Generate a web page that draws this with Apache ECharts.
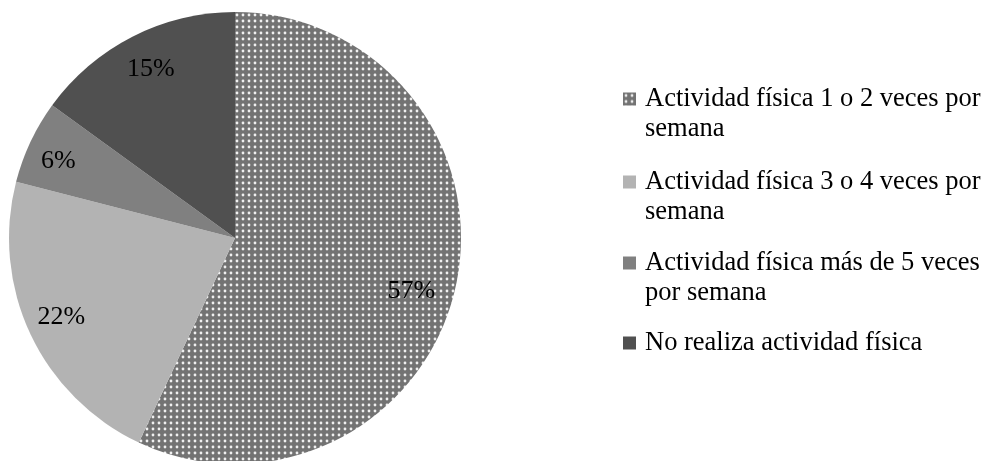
<!DOCTYPE html>
<html><head><meta charset="utf-8">
<script src="https://cdn.jsdelivr.net/npm/echarts@6/dist/echarts.min.js"></script>
<style>html,body{margin:0;padding:0;background:#fff}#c{width:986px;height:461px}</style>
</head><body><div id="c"></div>
<script>
const categories = ['Actividad física 1 o 2 veces por semana','Actividad física 3 o 4 veces por semana','Actividad física más de 5 veces por semana','No realiza actividad física'];
const legendText = ['Actividad física 1 o 2 veces por\nsemana','Actividad física 3 o 4 veces por\nsemana','Actividad física más de 5 veces\npor semana','No realiza actividad física'];
const values = [57, 22, 6, 15];
const sliceColors = ['pattern', '#b3b3b3', '#808080', '#505050'];

function makePattern() {
  const c = document.createElement('canvas'); c.width = 6; c.height = 6;
  const g = c.getContext('2d');
  g.fillStyle = '#737373'; g.fillRect(0, 0, 6, 6);
  g.fillStyle = '#f0f0f0'; g.beginPath(); g.arc(3, 3, 1.4, 0, Math.PI * 2); g.fill();
  return c;
}
const pattern = { image: makePattern(), repeat: 'repeat' };
const colorFor = c => c === 'pattern' ? pattern : c;

const pieData = categories.map((n, i) => ({ name: n, value: values[i], itemStyle: { color: colorFor(sliceColors[i]) } }));
const labelData = categories.map((n, i) => ({ name: n, value: values[i] }));
const labelShift = [[-11, 11], [0, -3], [-3, 5], [3, 2]];

const font = '"Liberation Serif", "Times New Roman", serif';
const legendTops = [54, 137, 218, 328];
const legends = categories.map((n, i) => {
  const lines = legendText[i].split('\n').length;
  return {
    orient: 'vertical', left: 623, top: legendTops[i], padding: 0, data: [n], icon: 'rect',
    itemWidth: 13, itemHeight: 13, selectedMode: false,
    formatter: () => (lines > 1 ? '\n' : '') + legendText[i],
    textStyle: { fontFamily: font, fontSize: 26.5, lineHeight: 30, color: '#000', padding: [0, 0, 0, 4] }
  };
});

const chart = echarts.init(document.getElementById('c'));
chart.setOption({
  animation: false,
  backgroundColor: '#fff',
  legend: legends,
  series: [
    { type: 'pie', center: [235, 238], radius: [0, 226], startAngle: 90, clockwise: true,
      data: pieData, label: { show: false }, labelLine: { show: false }, silent: true,
      itemStyle: { borderWidth: 0 } },
    { type: 'pie', center: [235, 238], radius: [152, 226], startAngle: 90, clockwise: true,
      data: labelData, silent: true, itemStyle: { color: 'rgba(0,0,0,0)', borderWidth: 0 },
      labelLine: { show: false }, percentPrecision: 0,
      labelLayout: p => ({ dx: labelShift[p.dataIndex][0], dy: labelShift[p.dataIndex][1] }),
      label: { show: true, position: 'inside', formatter: '{d}%', fontFamily: font, fontSize: 26, color: '#000' } }
  ]
});
</script></body></html>
